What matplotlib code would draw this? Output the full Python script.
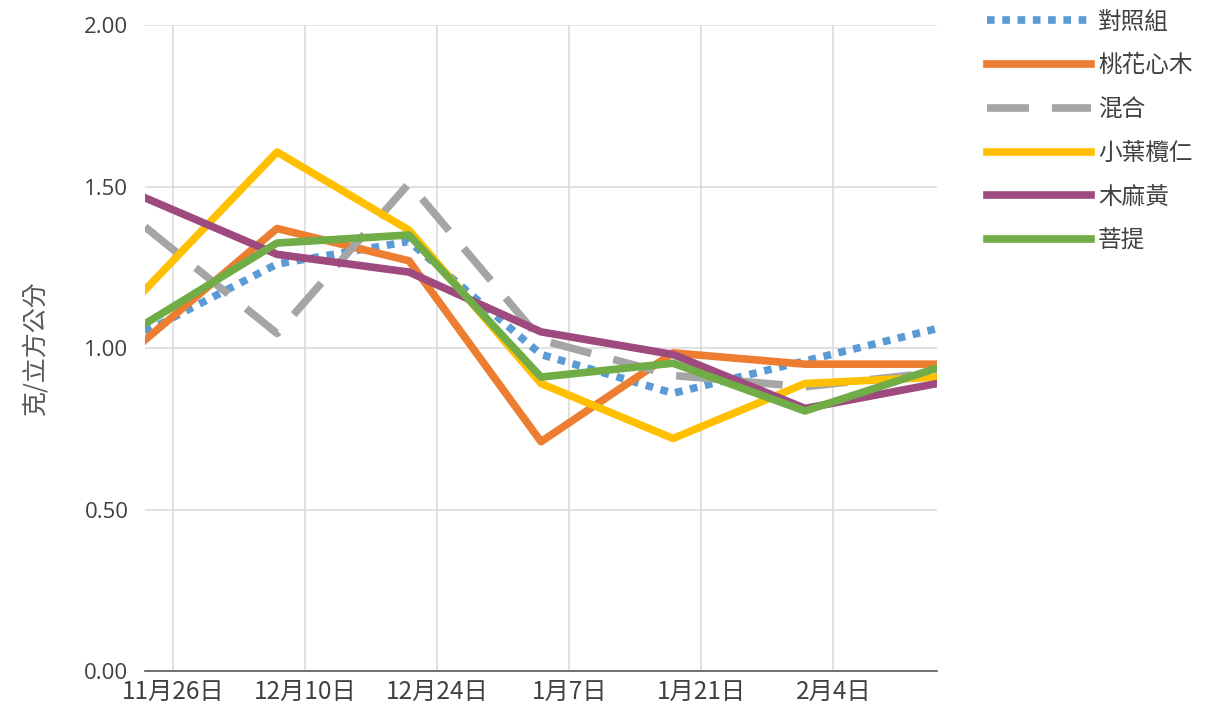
import datetime as dt
import matplotlib
matplotlib.use("Agg")
import matplotlib.pyplot as plt

plt.rcParams["font.family"] = ["Noto Sans CJK TC", "DejaVu Sans"]

# 取樣日期 (每兩週一次)
fechas = ["2020-11-23", "2020-12-07", "2020-12-21", "2021-01-04",
          "2021-01-18", "2021-02-01", "2021-02-15"]

# 各處理組 (克/立方公分)
control = [1.05, 1.26, 1.33, 0.98, 0.86, 0.96, 1.06]
taohua = [1.025, 1.37, 1.27, 0.71, 0.985, 0.95, 0.95]
mixto = [1.375, 1.045, 1.51, 1.025, 0.915, 0.88, 0.925]
xiaoye = [1.18, 1.607, 1.365, 0.89, 0.72, 0.89, 0.91]
mumahuang = [1.465, 1.29, 1.235, 1.05, 0.98, 0.813, 0.89]
puti = [1.075, 1.325, 1.35, 0.91, 0.953, 0.805, 0.938]

nombres = ["對照組", "桃花心木", "混合", "小葉欖仁", "木麻黃", "菩提"]

tick_fechas = ["2020-11-26", "2020-12-10", "2020-12-24", "2021-01-07",
               "2021-01-21", "2021-02-04"]
tick_labels = ["11月26日", "12月10日", "12月24日", "1月7日", "1月21日", "2月4日"]

x = [dt.datetime.strptime(f, "%Y-%m-%d") for f in fechas]
xt = [dt.datetime.strptime(f, "%Y-%m-%d") for f in tick_fechas]

fig = plt.figure(figsize=(12.21, 7.09), dpi=100)
ax = fig.add_axes([0.1188, 0.0536, 0.6486, 0.9111])

lw = 5.5
ax.plot(x, control, color="#5B9BD5", lw=lw, linestyle=(0, (1, 1)),
        dash_capstyle="butt", label=nombres[0])
ax.plot(x, taohua, color="#ED7D31", lw=lw, label=nombres[1])
ax.plot(x, mixto, color="#A5A5A5", lw=lw, linestyle=(0, (5.5, 3)),
        dash_capstyle="butt", label=nombres[2])
ax.plot(x, xiaoye, color="#FFC000", lw=lw, label=nombres[3])
ax.plot(x, mumahuang, color="#9E4A7F", lw=lw, label=nombres[4])
ax.plot(x, puti, color="#70AD47", lw=lw, label=nombres[5])

ax.set_xlim(x[0], x[-1])
ax.set_ylim(0, 2)
ax.set_yticks([0, 0.5, 1.0, 1.5, 2.0])
ax.set_yticklabels(["0.00", "0.50", "1.00", "1.50", "2.00"],
                   family=["Open Sans", "DejaVu Sans"], fontsize=16)
ax.set_xticks(xt)
ax.set_xticklabels(tick_labels, fontsize=17.5)
ax.tick_params(axis="both", colors="#404040", length=0)
ax.tick_params(axis="y", pad=12)
ax.tick_params(axis="x", pad=6)

ax.grid(True, color="#D9D9D9", lw=1.1)
ax.set_axisbelow(True)
for lado in ["top", "right", "left"]:
    ax.spines[lado].set_visible(False)
ax.spines["bottom"].set_color("#595959")
ax.spines["bottom"].set_linewidth(1.2)

ax.set_ylabel("克/立方公分", fontsize=18, color="#595959", labelpad=26)

fig.legend(loc="upper left", bbox_to_anchor=(0.791, 1.015), frameon=False,
           fontsize=17, handlelength=4.4, handletextpad=0.3, labelspacing=0.88,
           labelcolor="#404040")

fig.savefig("out.png", dpi=100)
